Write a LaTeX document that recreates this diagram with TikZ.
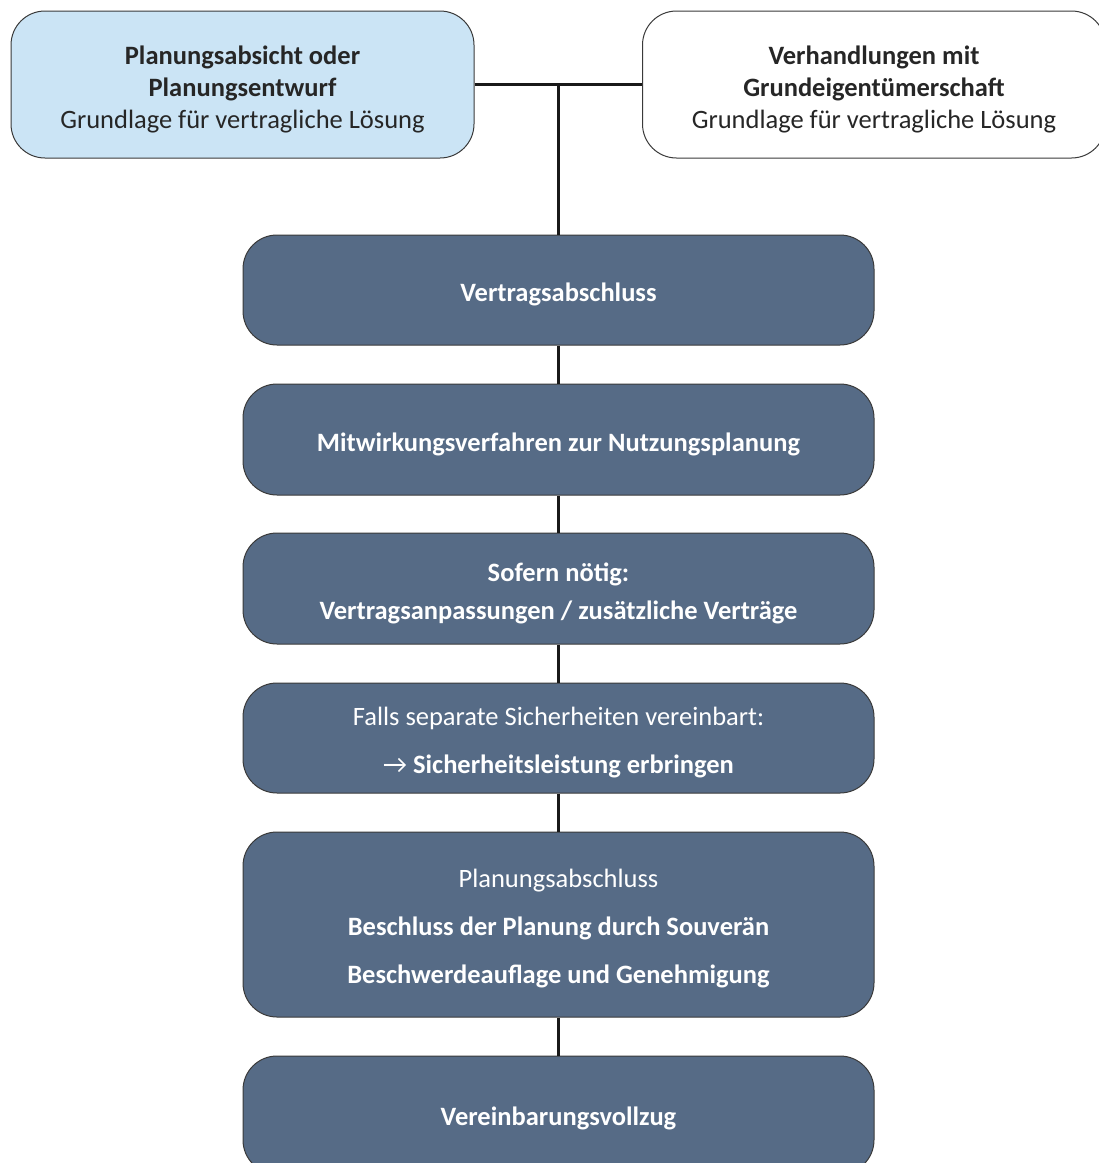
\documentclass[tikz,border=0pt]{standalone}
\usepackage{fontspec}
\setmainfont{Carlito}
\definecolor{boxblue}{HTML}{566B86}
\definecolor{lightblue}{HTML}{CBE4F5}
\definecolor{edgegrey}{HTML}{3A3A3A}
\tikzset{
  base/.style={draw=edgegrey, line width=1pt, rounded corners=34pt, inner sep=0pt},
  topbox/.style={base, minimum width=463pt, minimum height=147pt},
  stepbox/.style={base, fill=boxblue, minimum width=631pt},
  darktext/.style={align=center, inner sep=0pt, text=black!85},
  lighttext/.style={align=center, inner sep=0pt, text=white},
  conn/.style={line width=2.2pt, black!90}
}
\newcommand{\inside}[1]{([yshift=-4.5pt]#1.center)}
\begin{document}
\begin{tikzpicture}[x=1pt,y=-1pt]
\useasboundingbox (0,0) rectangle (1099,1163);
\clip (0,0) rectangle (1099,1163);
\fontsize{26.5}{32}\selectfont
\node[topbox, fill=lightblue] (a) at (242.5,84.5) {};
\node[topbox, fill=white] (b) at (874,84.5) {};
\node[stepbox, minimum height=110pt] (c) at (558.5,290) {};
\node[stepbox, minimum height=111pt] (d) at (558.5,439.5) {};
\node[stepbox, minimum height=111pt] (e) at (558.5,588.5) {};
\node[stepbox, minimum height=110pt] (f) at (558.5,738) {};
\node[stepbox, minimum height=185pt] (g) at (558.5,924.5) {};
\node[stepbox, minimum height=118pt] (h) at (558.5,1115) {};
\node[darktext] (at) at \inside{a} {\textbf{Planungsabsicht oder}\\\textbf{Planungsentwurf}\\Grundlage für vertragliche Lösung};
\node[darktext] (bt) at \inside{b} {\textbf{Verhandlungen mit}\\\textbf{Grundeigentümerschaft}\\Grundlage für vertragliche Lösung};
\node[lighttext] (ct) at \inside{c} {\textbf{Vertragsabschluss}};
\node[lighttext] (dt) at \inside{d} {\textbf{Mitwirkungsverfahren zur Nutzungsplanung}};
\node[lighttext] (et) at \inside{e} {\textbf{Sofern nötig:}\\[6pt]\textbf{Vertragsanpassungen / zusätzliche Verträge}};
\node[lighttext] (ft) at \inside{f} {Falls separate Sicherheiten vereinbart:\\[16pt]→ \textbf{Sicherheitsleistung erbringen}};
\node[lighttext] (gt) at \inside{g} {Planungsabschluss\\[16pt]\textbf{Beschluss der Planung durch Souverän}\\[16pt]\textbf{Beschwerdeauflage und Genehmigung}};
\node[lighttext] (ht) at ([yshift=-3pt]h.center) {\textbf{Vereinbarungsvollzug}};
\coordinate (j) at (558.5,84.5);
\draw[conn] (a.east) -- (b.west);
\draw[conn] (j) -- (c.north);
\draw[conn] (c.south) -- (d.north);
\draw[conn] (d.south) -- (e.north);
\draw[conn] (e.south) -- (f.north);
\draw[conn] (f.south) -- (g.north);
\draw[conn] (g.south) -- (h.north);
\end{tikzpicture}
\end{document}
